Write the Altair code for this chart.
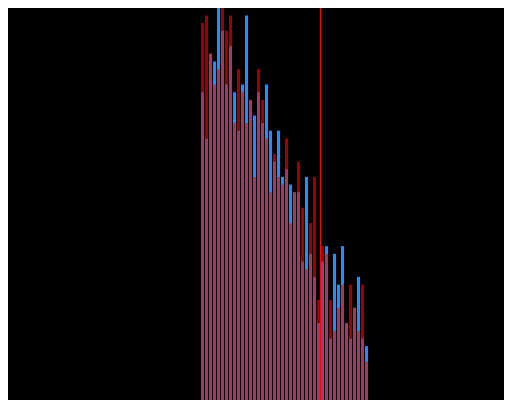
import altair as alt
import pandas as pd

# histogram bins (index of bin start) and counts of the two series
bin_start = list(range(42))
red_counts = [49, 50, 45, 41, 43, 52, 48, 50, 36, 43, 40, 36, 39, 29, 43, 39, 34, 27, 32, 29, 28,
              34, 23, 27, 31, 25, 17, 23, 29, 13, 20, 19, 13, 9, 12, 15, 10, 15, 12, 9, 15, 5]
blue_counts = [40, 34, 45, 44, 51, 48, 41, 46, 40, 35, 41, 50, 39, 37, 40, 36, 41, 35, 31, 35, 29,
               30, 28, 27, 27, 18, 29, 19, 16, 10, 18, 20, 8, 19, 15, 20, 10, 8, 12, 16, 8, 7]
threshold = [29.875]

bar_fill = 0.75  # fraction of bin width occupied by the bar

df = pd.DataFrame({
    "start": bin_start,
    "end": [b + bar_fill for b in bin_start],
    "red": red_counts,
    "blue": blue_counts,
})
df_line = pd.DataFrame({"t": threshold})

xscale = alt.Scale(domain=[-48.25, 75.75], nice=False, zero=False)
yscale = alt.Scale(domain=[0, 50.96], nice=False, zero=True)

blue = alt.Chart(df).mark_bar(color="#1e90ff", opacity=1, strokeWidth=0).encode(
    x=alt.X("start:Q", scale=xscale, axis=None),
    x2="end:Q",
    y=alt.Y("blue:Q", scale=yscale, axis=None),
    y2=alt.datum(0),
)
red = alt.Chart(df).mark_bar(color="#ff0000", opacity=0.6, strokeWidth=0).encode(
    x=alt.X("start:Q", scale=xscale, axis=None),
    x2="end:Q",
    y=alt.Y("red:Q", scale=yscale, axis=None),
    y2=alt.datum(0),
)
line = alt.Chart(df_line).mark_rule(color="#ff0000", strokeWidth=1).encode(
    x=alt.X("t:Q", scale=xscale, axis=None),
    y=alt.value(-8),
    y2=alt.value(392),
)

chart = alt.layer(blue, red, line).properties(
    width=496, height=392, background="#000000", padding=0,
    autosize=alt.AutoSizeParams(type="none"),
).configure_view(strokeWidth=0)

chart.save("out.html", embed_options={"renderer": "svg", "actions": False})
